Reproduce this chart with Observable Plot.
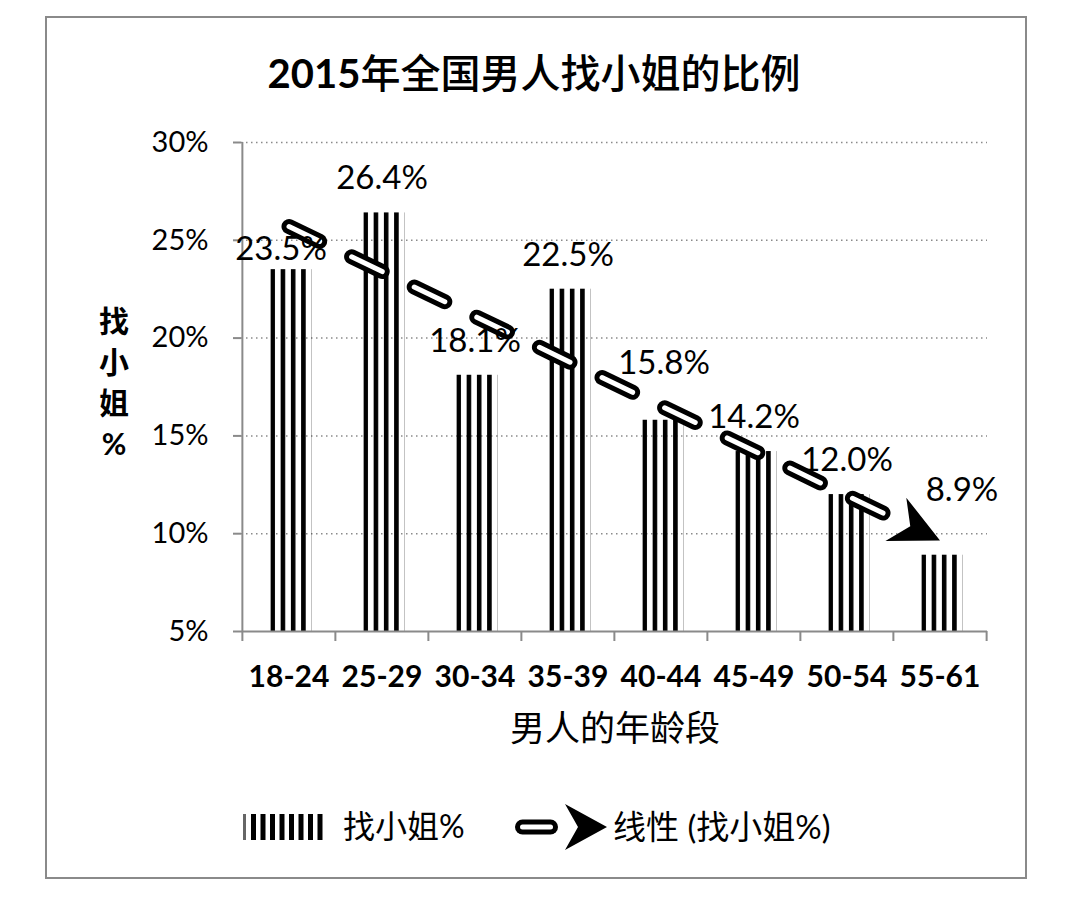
<!DOCTYPE html>
<html><head><meta charset="utf-8">
<script src="https://cdn.jsdelivr.net/npm/d3@7"></script>
<script src="https://cdn.jsdelivr.net/npm/@observablehq/plot@0.6"></script>
<style>
body{margin:0;background:#fff;width:1080px;height:908px;position:relative;overflow:hidden;font-family:Lato,"Noto Sans CJK SC",sans-serif;color:#000}
#frame{position:absolute;left:45px;top:16px;width:982px;height:863px;border:2px solid #8a8a8a;box-sizing:border-box}
#chart{position:absolute;left:0;top:0}
#title{position:absolute;left:0;top:51px;width:1068px;text-align:center;font-size:40px;line-height:44px;white-space:nowrap}
#title b{font-weight:bold}
#title span{font-weight:500}
#ytitle{position:absolute;left:84px;top:300px;width:60px;text-align:center;font-size:30px;line-height:41px;font-weight:bold}
#xtitle{position:absolute;left:415px;top:706px;width:400px;text-align:center;font-size:35px;line-height:42px}
#legend{position:absolute;left:0;top:797px}
</style></head><body>
<svg width="0" height="0" style="position:absolute">
<defs>
<pattern id="stripes" patternUnits="objectBoundingBox" patternContentUnits="objectBoundingBox" width="0.25" height="1"><rect x="0" y="0" width="0.112" height="1" fill="#000"/></pattern>
<marker id="arrowhead" markerUnits="userSpaceOnUse" orient="auto" viewBox="-52 -26 54 52" refX="0" refY="0" markerWidth="54" markerHeight="52"><path d="M0,0L-49,-24L-33,0L-49,24Z" fill="#000"/></marker>
<marker id="arrowsmall" markerUnits="userSpaceOnUse" orient="auto" viewBox="-52 -26 54 52" refX="0" refY="0" markerWidth="54" markerHeight="52"><path d="M0,0L-42,-23L-29,0L-42,23Z" fill="#000"/></marker>
</defs></svg>
<div id="frame"></div>
<div id="title"><b>2015</b><span>年全国男人找小姐的比例</span></div>
<div id="chart"></div>
<div id="ytitle">找<br>小<br>姐<br>%</div>
<div id="xtitle">男人的年龄段</div>
<svg id="legend" width="1080" height="60">
  <g fill="#000">
    <rect x="243" y="17" width="3" height="26" fill="#666"/>
    <rect x="251" y="17" width="5" height="26"/>
    <rect x="260.5" y="17" width="5" height="26"/>
    <rect x="270" y="17" width="5" height="26"/>
    <rect x="279.5" y="17" width="5" height="26"/>
    <rect x="289" y="17" width="5" height="26"/>
    <rect x="298.5" y="17" width="5" height="26"/>
    <rect x="308" y="17" width="5" height="26"/>
    <rect x="317.5" y="17" width="5" height="26"/>
  </g>
  <text x="343" y="30" dy="0.35em" font-size="32" font-family="Lato, 'Noto Sans CJK SC'">找小姐%</text>
  <path d="M522.5,30L607,30" stroke="#000" stroke-width="15" stroke-linecap="round" stroke-dasharray="28 300" fill="none"/>
  <path d="M522.5,30L607,30" stroke="#fff" stroke-width="5" stroke-linecap="round" stroke-dasharray="28 300" fill="none" marker-end="url(#arrowsmall)"/>
  <text x="613" y="30" dy="0.35em" font-size="33" font-family="Lato, 'Noto Sans CJK SC'">线性 (找小姐%)</text>
</svg>
<script>
const ages = ["18-24","25-29","30-34","35-39","40-44","45-49","50-54","55-61"];
const shares = [23.5,26.4,18.1,22.5,15.8,14.2,12.0,8.9];
const yTicks = [5,10,15,20,25,30];

const data = ages.map((age, i) => ({age, share: shares[i]}));
const dash = Array(9).fill("34 35.5").join(" ") + " 34 400";
const gray = "#8a8a8a";
const half = 746 / ages.length / 2;
const lbl = {x: "age", y: "share", text: d => d.share.toFixed(1) + "%", fontSize: 33, fill: "#000"};

const chart = Plot.plot({
  width: 1080, height: 780,
  marginLeft: 241, marginRight: 93, marginTop: 142, marginBottom: 149,
  style: {fontFamily: 'Lato, "Noto Sans CJK SC", sans-serif', color: "#000", background: "transparent", overflow: "visible"},
  x: {domain: ages, padding: 0},
  y: {domain: [5, 30]},
  marks: [
    Plot.gridY(yTicks.slice(1), {stroke: gray, strokeOpacity: 1, strokeWidth: 1.5, strokeDasharray: "1.5,3.5"}),
    Plot.barY(data, {x: "age", y1: 5, y2: "share", fill: "url(#stripes)", insetLeft: 28.4, insetRight: 23.65}),
    Plot.ruleY([5], {stroke: gray, strokeWidth: 2}),
    Plot.ruleX(ages.slice(0, 1), {x: d => d, y1: 5, y2: 30, insetTop: 10, dx: -half, stroke: gray, strokeWidth: 2}),
    Plot.ruleX(ages.slice(1), {x: d => d, y1: 5, y2: 5, insetTop: 10, dx: -half, stroke: gray, strokeWidth: 2}),
    Plot.ruleX(ages.slice(-1), {x: d => d, y1: 5, y2: 5, insetTop: 10, dx: half, stroke: gray, strokeWidth: 2}),
    Plot.axisY(yTicks, {tickSize: 8, tickPadding: 25, fontSize: 29, stroke: gray, strokeWidth: 2, fill: "#000", tickFormat: d => d + "%", label: null}),
    Plot.axisX({tickSize: 0, tickPadding: 34, fontSize: 30, fontWeight: "bold", fill: "#000", label: null}),
    Plot.linearRegressionY(data, {x: "age", y: "share", ci: 0, stroke: "#000", strokeWidth: 15, strokeDasharray: dash, strokeLinecap: "round"}),
    Plot.linearRegressionY(data, {x: "age", y: "share", ci: 0, stroke: "#fff", strokeWidth: 5, strokeDasharray: dash, strokeLinecap: "round", ariaLabel: "trend-top"}),
    Plot.text(data.filter(d => !["18-24", "40-44", "55-61"].includes(d.age)), {...lbl, dy: -34}),
    Plot.text(data.filter(d => d.age === "18-24"), {...lbl, dy: -20, dx: -8}),
    Plot.text(data.filter(d => d.age === "40-44"), {...lbl, dy: -57, dx: 3}),
    Plot.text(data.filter(d => d.age === "55-61"), {...lbl, dy: -65, dx: 22})
  ]
});
// attach the arrowhead to the end of the white (top) regression path
const targets = new Set();
chart.querySelectorAll('[aria-label="trend-top"]').forEach(el => {
  if (el.tagName.toLowerCase() === "path") targets.add(el);
  el.querySelectorAll("path").forEach(p => targets.add(p));
});
if (!targets.size) {
  chart.querySelectorAll("path").forEach(p => {
    const g = p.closest("[stroke]");
    const s = (p.getAttribute("stroke") || (g && g.getAttribute("stroke")) || "").toLowerCase();
    if ((s === "#fff" || s === "white") && !p.closest('[aria-label^="y-axis"]')) targets.add(p);
  });
}
targets.forEach(p => p.setAttribute("marker-end", "url(#arrowhead)"));
document.getElementById("chart").appendChild(chart);
</script>
</body></html>
